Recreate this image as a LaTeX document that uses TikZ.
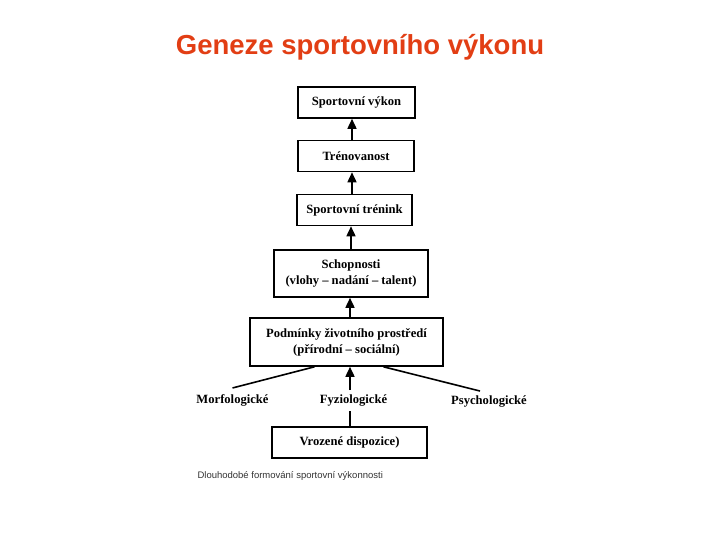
\documentclass[tikz,border=0pt]{standalone}
\usepackage{fontspec}
\setmainfont{Liberation Serif}
\newfontfamily\headfont{Liberation Sans}
\usetikzlibrary{arrows.meta,calc}
\definecolor{titlered}{RGB}{226,62,20}

\begin{document}
\begin{tikzpicture}[x=1pt, y=-1pt,
  box/.style={draw, line width=1.6pt, minimum height=31pt, inner sep=0pt,
    align=center, font=\fontsize{12.6}{16}\selectfont\bfseries},
  lbl/.style={font=\fontsize{12.6}{16}\selectfont\bfseries, inner sep=2pt},
  arr/.style={line width=1.6pt, -{Triangle[length=10pt,width=9pt]}},
  link/.style={line width=1.6pt}]
  \useasboundingbox (0,0) rectangle (720,540);

  % Title
  \node[font=\headfont\fontsize{27.5}{30}\selectfont\bfseries, text=titlered] (title) at (360,47) {Geneze sportovního výkonu};

  % Chain of boxes, top to bottom
  \node[box, minimum width=117pt] (vykon) at (356.5,102.5) {Sportovní výkon};
  \node[box, minimum width=116pt] (trenovanost) at (356,156) {Trénovanost};
  \node[box, minimum width=115pt] (trenink) at (354.5,210) {Sportovní trénink};
  \node[box, minimum width=154pt, minimum height=47pt] (schopnosti) at (351,273.5) {Schopnosti\\(vlohy -- nadání -- talent)};
  \node[box, minimum width=193pt, minimum height=48pt] (podminky) at (346.5,342) {Podmínky životního prostředí\\(přírodní -- sociální)};

  % Three kinds of predispositions
  \node[lbl] (morf) at (232.5,400) {Morfologické};
  \node[lbl] (fyz) at (353.5,401) {Fyziologické};
  \node[lbl] (psych) at (489,402) {Psychologické};
  \node[box, minimum width=155pt] (vrozene) at (349.5,442.5) {Vrozené dispozice)};

  % Arrows
  \draw[arr] (trenovanost.north -| 352,0) -- (vykon.south -| 352,0);
  \draw[arr] (trenink.north -| 352,0) -- (trenovanost.south -| 352,0);
  \draw[arr] (schopnosti.north -| 351,0) -- (trenink.south -| 351,0);
  \draw[arr] (podminky.north -| 350,0) -- (schopnosti.south -| 350,0);
  \draw[arr] ([yshift=3pt]fyz.north -| 350,0) -- (podminky.south -| 350,0);
  \draw[link] ([yshift=4pt]morf.north) -- ($(podminky.south)+(-32,0)$);
  \draw[link] ([xshift=-9pt,yshift=3pt]psych.north) -- ($(podminky.south)+(37,0)$);
  \draw[link] (vrozene.north -| 350,0) -- ([yshift=-2pt]fyz.south -| 350,0);

  % Caption
  \node[font=\headfont\fontsize{9.5}{12}\selectfont, text=black!80, anchor=west] (caption) at (194,476) {Dlouhodobé formování sportovní výkonnosti};
\end{tikzpicture}
\end{document}
